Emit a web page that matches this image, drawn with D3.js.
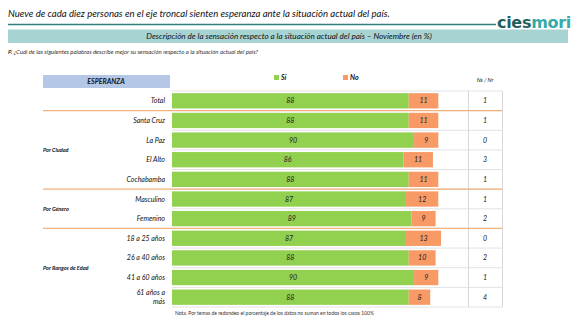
<!doctype html>
<meta charset="utf-8">
<style>
  body { margin: 0; background: #fff; }
  text { font-family: Lato, "Open Sans", sans-serif; }
</style>
<html lang="es">
<body>
<script src="https://d3js.org/d3.v7.min.js"></script>
<script>
var categories = ["Total", "Santa Cruz", "La Paz", "El Alto", "Cochabamba", "Masculino", "Femenino",
                  "18 a 25 años", "26 a 40 años", "41 a 60 años", "61 años a|más"];
var si   = [88, 88, 90, 86, 88, 87, 89, 87, 88, 90, 88];
var no   = [11, 11, 9, 11, 11, 12, 9, 13, 10, 9, 8];
var nsnr = [1, 1, 0, 3, 1, 1, 2, 0, 2, 1, 4];
var groups = [
  {name: "Por Ciudad", from: 1, to: 4},
  {name: "Por Género", from: 5, to: 6},
  {name: "Por Rangos de Edad", from: 7, to: 10}
];
var separatorsAfter = [0, 4, 6];

var width = 571, height = 322;
var svg = d3.select("body").append("svg")
    .attr("width", width)
    .attr("height", height);

// header
svg.append("text")
    .attr("x", 8).attr("y", 17)
    .style("font-size", "9.6px").style("font-style", "italic")
    .attr("fill", "#111")
    .text("Nueve de cada diez personas en el eje troncal sienten esperanza ante la situación actual del país.");

svg.append("line")
    .attr("x1", 8).attr("x2", 496).attr("y1", 24.5).attr("y2", 24.5)
    .attr("stroke", "#2f7f80").attr("stroke-width", 1.5);

var logo = svg.append("text")
    .attr("x", 571).attr("y", 27.5).attr("text-anchor", "end")
    .style("font-size", "16px").style("font-weight", "900")
    .style("font-family", "\"DejaVu Sans\", sans-serif")
    .style("letter-spacing", "-0.3px");
logo.append("tspan").attr("fill", "#1e5f60").text("cies");
logo.append("tspan").attr("fill", "#35a9aa").text("mori");

svg.append("rect")
    .attr("x", 8).attr("y", 29.5).attr("width", 560).attr("height", 13.5)
    .attr("fill", "#a8d3d3");
svg.append("text")
    .attr("x", 289).attr("y", 39.2).attr("text-anchor", "middle")
    .style("font-size", "8.1px").style("font-style", "italic")
    .attr("fill", "#111")
    .text("Descripción de la sensación respecto a la situación actual del país – Noviembre (en %)");

var q = svg.append("text")
    .attr("x", 8).attr("y", 54)
    .style("font-size", "6px").style("font-style", "italic")
    .attr("fill", "#333");
q.append("tspan").style("font-weight", "bold").text("P. ");
q.append("tspan").text("¿Cuál de las siguientes palabras describe mejor su sensación respecto a la situación actual del país?");

// scales
var x = d3.scaleLinear().domain([0, 100]).range([172, 441]);
var y = d3.scaleBand().domain(d3.range(categories.length)).range([91, 307]).paddingInner(0.22).paddingOuter(0.11);

// table header
svg.append("rect")
    .attr("x", 43).attr("y", 75).attr("width", 127).attr("height", 13)
    .attr("fill", "#b4c7e7");
svg.append("text")
    .attr("x", 106).attr("y", 84.3).attr("text-anchor", "middle")
    .style("font-size", "7px").style("font-weight", "bold").style("font-style", "italic")
    .attr("fill", "#111").text("ESPERANZA");

var legend = [{label: "Sí", color: "#92d050", x: 274}, {label: "No", color: "#f79a66", x: 343}];
legend.forEach(function(d) {
  svg.append("rect").attr("x", d.x).attr("y", 75).attr("width", 5).attr("height", 5).attr("fill", d.color);
  svg.append("text").attr("x", d.x + 7).attr("y", 80.3)
      .style("font-size", "7px").style("font-weight", "bold").style("font-style", "italic")
      .attr("fill", "#111").text(d.label);
});
svg.append("text")
    .attr("x", 485).attr("y", 82).attr("text-anchor", "middle")
    .style("font-size", "5.5px").style("font-style", "italic")
    .attr("fill", "#111").text("Ns / Nr");

// row grid lines
var step = y.step();
d3.range(categories.length + 1).forEach(function(i) {
  var yy = y(0) - (step - y.bandwidth()) / 2 + i * step;
  svg.append("line")
      .attr("x1", 172).attr("x2", 502).attr("y1", yy).attr("y2", yy)
      .attr("stroke", "#e2e2e2").attr("stroke-width", 1);
});
svg.append("line").attr("x1", 468.5).attr("x2", 468.5).attr("y1", 91).attr("y2", 307)
    .attr("stroke", "#d8d8d8");
svg.append("line").attr("x1", 502.5).attr("x2", 502.5).attr("y1", 91).attr("y2", 307)
    .attr("stroke", "#d8d8d8");

// orange separators
separatorsAfter.forEach(function(i) {
  var yy = y(i) + y.bandwidth() + (step - y.bandwidth()) / 2;
  svg.append("line")
      .attr("x1", 43).attr("x2", 502).attr("y1", yy).attr("y2", yy)
      .attr("stroke", "#f0b27a").attr("stroke-width", 1.2);
});

// bars
svg.selectAll(".si").data(si).enter().append("rect")
    .attr("x", x(0))
    .attr("y", function(d, i) { return y(i); })
    .attr("width", function(d) { return x(d) - x(0); })
    .attr("height", y.bandwidth())
    .attr("fill", "#92d050");

svg.selectAll(".no").data(no).enter().append("rect")
    .attr("x", function(d, i) { return x(si[i]); })
    .attr("y", function(d, i) { return y(i); })
    .attr("width", function(d) { return x(d) - x(0); })
    .attr("height", y.bandwidth())
    .attr("fill", "#f79a66");

var valStyle = function(sel) {
  sel.style("font-size", "7px").style("font-style", "italic")
     .attr("fill", "#222").attr("text-anchor", "middle");
};
svg.selectAll(".siLbl").data(si).enter().append("text")
    .attr("x", function(d) { return (x(0) + x(d)) / 2; })
    .attr("y", function(d, i) { return y(i) + y.bandwidth() / 2 + 2.5; })
    .call(valStyle).text(function(d) { return d; });
svg.selectAll(".noLbl").data(no).enter().append("text")
    .attr("x", function(d, i) { return (x(si[i]) + x(si[i] + d)) / 2; })
    .attr("y", function(d, i) { return y(i) + y.bandwidth() / 2 + 2.5; })
    .call(valStyle).text(function(d) { return d; });
svg.selectAll(".nsLbl").data(nsnr).enter().append("text")
    .attr("x", 485)
    .attr("y", function(d, i) { return y(i) + y.bandwidth() / 2 + 2.5; })
    .call(valStyle).text(function(d) { return d; });

// row labels
categories.forEach(function(c, i) {
  var parts = c.split("|");
  var cy = y(i) + y.bandwidth() / 2;
  var t = svg.append("text")
      .attr("x", 165).attr("text-anchor", "end")
      .style("font-size", "7px").style("font-style", "italic").attr("fill", "#111");
  parts.forEach(function(p, k) {
    t.append("tspan").attr("x", 165)
        .attr("y", cy + 2.5 + (k - (parts.length - 1) / 2) * 9)
        .text(p);
  });
});

// group labels
groups.forEach(function(g) {
  var gy = (y(g.from) + y(g.to) + y.bandwidth()) / 2;
  svg.append("text")
      .attr("x", 43).attr("y", gy + 2)
      .style("font-size", "5.5px").style("font-weight", "bold").style("font-style", "italic")
      .attr("fill", "#111").text(g.name);
});

svg.append("text")
    .attr("x", 175).attr("y", 315)
    .style("font-size", "5px").attr("fill", "#333")
    .text("Nota. Por temas de redondeo el porcentaje de los datos no suman en todos los casos 100%");
</script>
</body>
</html>
